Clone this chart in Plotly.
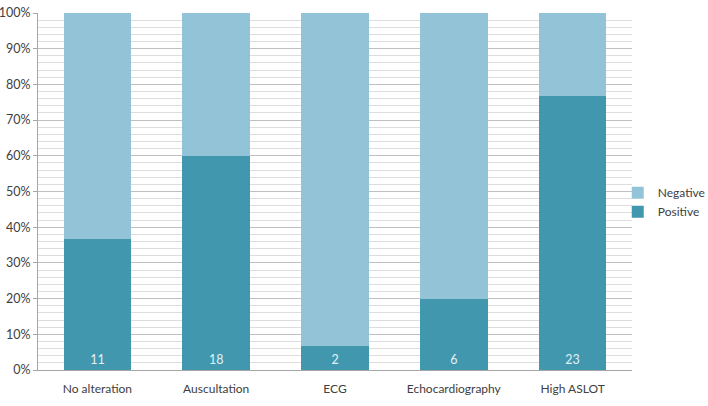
import plotly.graph_objects as go

categories = ["No alteration", "Auscultation", "ECG", "Echocardiography", "High ASLOT"]
positive = [11, 18, 2, 6, 23]
negative = [19, 12, 28, 24, 7]
y_ticks = list(range(0, 101, 10))
y_tick_labels = [f"{v}%" for v in y_ticks]

font_family = "Lato, 'Open Sans', sans-serif"

fig = go.Figure()
fig.add_trace(go.Bar(
    name="Positive", x=categories, y=positive,
    marker=dict(color="#4197AE", line=dict(width=0)),
    text=[str(v) for v in positive], textposition="inside",
    insidetextanchor="start",
    textfont=dict(color="#E3F1F5", size=12.5, family=font_family),
    hoverinfo="skip",
))
fig.add_trace(go.Bar(
    name="Negative", x=categories, y=negative,
    marker=dict(color="#93C3D6", line=dict(width=0)),
    hoverinfo="skip",
))

fig.update_layout(
    width=708, height=406,
    barmode="stack", barnorm="percent", bargap=0.43,
    plot_bgcolor="white", paper_bgcolor="white",
    margin=dict(l=38, r=76, t=13, b=36, autoexpand=False),
    font=dict(family=font_family, size=12, color="#404040"),
    showlegend=True,
    legend=dict(x=0.976, y=0.47, xanchor="left", yanchor="middle",
                bgcolor="rgba(0,0,0,0)",
                font=dict(size=12, color="#404040"),
                tracegroupgap=0, traceorder="reversed"),
    uniformtext=dict(minsize=8, mode="show"),
)
fig.update_yaxes(
    range=[0, 100], tickmode="array", tickvals=y_ticks, ticktext=y_tick_labels,
    showgrid=True, gridcolor="#BFBFBF", gridwidth=1,
    minor=dict(dtick=2, showgrid=True, gridcolor="#DDDDDD", gridwidth=1, ticks=""),
    showline=True, linecolor="#A6A6A6", linewidth=1,
    ticks="outside", ticklen=4, tickcolor="#A6A6A6",
    zeroline=False, tickfont=dict(size=12.5, color="#404040"), automargin=False,
)
fig.update_xaxes(
    showline=True, linecolor="#A6A6A6", linewidth=1,
    ticks="", tickfont=dict(size=12, color="#404040"), ticklabelstandoff=8,
    automargin=False,
)

fig.write_html(
    "out.html",
    config={"displayModeBar": False},
    post_script="document.body.style.margin='0';document.body.style.overflow='hidden';",
)
